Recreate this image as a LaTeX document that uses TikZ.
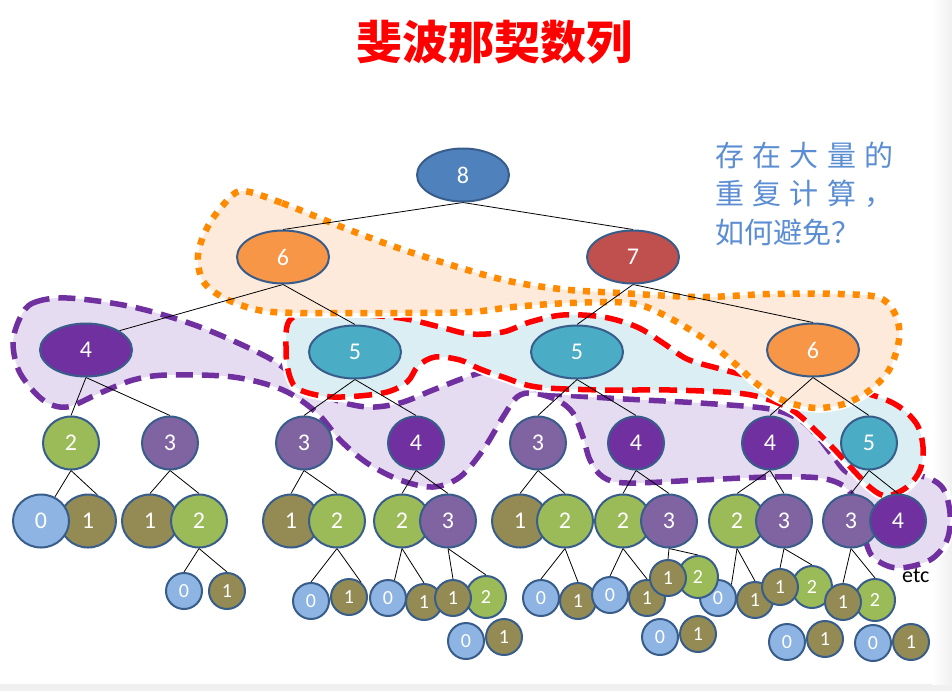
\documentclass[tikz,border=0pt]{standalone}
\usepackage{fontspec}
\newfontfamily\digitfont{Carlito}
\newfontfamily\cjk{Noto Sans CJK SC}
\usetikzlibrary{shapes.geometric}
\definecolor{cZero}{HTML}{8DB4E2}
\definecolor{cOne}{HTML}{948A54}
\definecolor{cTwo}{HTML}{9BBB59}
\definecolor{cThree}{HTML}{8064A2}
\definecolor{cFour}{HTML}{7030A0}
\definecolor{cFive}{HTML}{4BACC6}
\definecolor{cSix}{HTML}{F79646}
\definecolor{cSeven}{HTML}{C0504D}
\definecolor{cEight}{HTML}{4F81BD}
\definecolor{cBorder}{HTML}{385D8A}
\definecolor{hOrange}{HTML}{FF8A00}
\definecolor{hOrangeFill}{HTML}{FDEADA}
\definecolor{hRed}{HTML}{FF0000}
\definecolor{hBlueFill}{HTML}{DAEEF3}
\definecolor{hPurple}{HTML}{7030A0}
\definecolor{hPurpleFill}{HTML}{E6DCF2}
\definecolor{noteBlue}{HTML}{5B8DD3}
\pgfdeclarelayer{hulls}
\pgfdeclarelayer{edges}
\pgfsetlayers{hulls,edges,main}
\begin{document}
\begin{tikzpicture}[x=1pt,y=-1pt,
  nd/.style={ellipse, draw=cBorder, line width=2pt, inner sep=0pt, text=white,
    font=\digitfont\fontsize{24}{24}\selectfont},
  bignd/.style={nd, minimum width=92pt, minimum height=53pt},
  midnd/.style={nd, minimum width=56pt, minimum height=53pt},
  smlnd/.style={nd, minimum width=36pt, minimum height=36pt, font=\digitfont\fontsize{20}{20}\selectfont},
  smlbnd/.style={smlnd, minimum width=40pt, minimum height=42pt},
  vz/.style={fill=cZero}, vo/.style={fill=cOne}, vtw/.style={fill=cTwo},
  vth/.style={fill=cThree}, vfo/.style={fill=cFour}, vfi/.style={fill=cFive},
  vsi/.style={fill=cSix}, vse/.style={fill=cSeven}, vei/.style={fill=cEight},
  edge/.style={draw=black, line width=0.8pt},
  halo/.style={preaction={draw=white, line width=9.5pt, solid}},
]
\useasboundingbox (0,0) rectangle (952,691);
\begin{pgfonlayer}{hulls}
\fill[white] (0,0) rectangle (952,691);
\fill[gray!12] (0,684) rectangle (952,691);
\shade[left color=white, right color=gray!12] (932,0) rectangle (952,684);
% purple hull
\path[halo, fill=hPurpleFill, draw=hPurple, line width=5.5pt, dash pattern=on 17pt off 9pt]
 plot[smooth cycle, tension=0.55] coordinates {
 (20,318) (33,303) (67,298) (133,307) (200,327) (267,357) (300,380) (333,399)
 (367,407) (400,403) (433,390) (467,377) (490,372) (520,382) (550,393) (607,398)
 (700,403) (770,409) (800,420) (818,437) (833,456) (850,474) (887,479) (920,476)
 (942,487) (950,513) (947,540) (930,560) (897,568) (873,557) (864,535) (857,505)
 (845,487) (820,478) (770,477) (700,480) (627,483) (603,477) (590,460) (583,437)
 (573,413) (557,400) (533,393) (517,397) (503,417) (483,450) (460,477) (433,487)
 (400,480) (367,463) (340,440) (317,413) (283,390) (233,377) (167,375) (133,380)
 (100,393) (67,407) (43,400) (20,373) (13,343)};
% red hull
\path[halo, fill=hBlueFill, draw=hRed, line width=5.5pt, dash pattern=on 18pt off 9pt]
 plot[smooth cycle, tension=0.55] coordinates {
 (292,318) (340,314) (400,318) (440,327) (470,334) (503,332) (530,322) (563,315)
 (603,317) (637,327) (663,343) (687,359) (717,368) (750,376) (800,382) (853,390)
 (893,403) (916,423) (923,447) (920,470) (907,487) (887,496) (872,489) (855,472)
 (835,450) (815,430) (795,412) (770,400) (737,393) (670,390) (603,390) (537,387)
 (503,377) (480,369) (460,360) (435,357) (418,366) (407,382) (383,393) (333,397)
 (300,390) (290,377) (286,350)};
% orange hull
\path[halo, fill=hOrangeFill, draw=hOrange, line width=6.5pt, dash pattern=on 7pt off 8pt]
 plot[smooth cycle, tension=0.55] coordinates {
 (242,191) (282,203) (347,229) (413,253) (500,279) (560,289) (620,293) (700,297)
 (770,294) (840,294) (880,298) (896,316) (899,340) (889,370) (870,390) (847,403)
 (820,408) (797,405) (778,398) (757,384) (733,362) (703,338) (662,314) (630,303)
 (570,303) (513,307) (470,312) (400,313) (300,313) (258,310) (224,298) (203,281)
 (198,255) (207,228) (224,204)};
\end{pgfonlayer}

% title and note
\node[anchor=base, inner sep=0pt, text=red, font=\cjk\bfseries\fontsize{46}{46}\selectfont] (title) at (494.5,59) {斐波那契数列};
\node[anchor=base west, inner sep=0pt, text=noteBlue, font=\cjk\fontsize{29}{29}\selectfont] (noteA) at (715,166) {存\hspace{8.3pt}在\hspace{8.3pt}大\hspace{8.3pt}量\hspace{8.3pt}的};
\node[anchor=base west, inner sep=0pt, text=noteBlue, font=\cjk\fontsize{29}{29}\selectfont] (noteB) at (715,204) {重\hspace{8.3pt}复\hspace{8.3pt}计\hspace{8.3pt}算\hspace{8.3pt}，};
\node[anchor=base west, inner sep=0pt, text=noteBlue, font=\cjk\fontsize{29}{29}\selectfont] (noteC) at (715,243) {如何避免？};

% level 1-3
\node[bignd, vei] (n8) at (463,175) {8};
\node[bignd, vsi] (n6a) at (283,257) {6};
\node[bignd, vse] (n7) at (633,257) {7};
\node[bignd, vfo] (n4a) at (86,350) {4};
\node[bignd, vfi] (n5a) at (355,352) {5};
\node[bignd, vfi] (n5b) at (577,352) {5};
\node[bignd, vsi] (n6b) at (813,350) {6};
% level 4
\node[midnd, vtw] (n2a) at (71,443) {2};
\node[midnd, vth] (n3a) at (170,443) {3};
\node[midnd, vth] (n3b) at (304,443) {3};
\node[midnd, vfo] (n4b) at (416,443) {4};
\node[midnd, vth] (n3c) at (538,443) {3};
\node[midnd, vfo] (n4c) at (636,443) {4};
\node[midnd, vfo] (n4d) at (770,443) {4};
\node[midnd, vfi] (n5c) at (869,443) {5};
% level 5
\node[midnd, vo] (a1) at (88,521) {1};
\node[midnd, vz] (a0) at (41,521) {0};
\node[midnd, vo] (b1) at (150,521) {1};
\node[midnd, vtw] (b2) at (199,521) {2};
\node[midnd, vo] (c1) at (291,521) {1};
\node[midnd, vtw] (c2) at (337,521) {2};
\node[midnd, vtw] (d2) at (402,521) {2};
\node[midnd, vth] (d3) at (448,521) {3};
\node[midnd, vo] (e1) at (520,521) {1};
\node[midnd, vtw] (e2) at (565,521) {2};
\node[midnd, vtw] (f2) at (623,521) {2};
\node[midnd, vth] (f3) at (669,521) {3};
\node[midnd, vtw] (g2) at (737,521) {2};
\node[midnd, vth] (g3) at (784,521) {3};
\node[midnd, vth] (h3) at (851,521) {3};
\node[midnd, vfo] (h4) at (898,521) {4};
% level 6
\node[smlnd, vz] (p0) at (184,591) {0};
\node[smlnd, vo] (p1) at (227,591) {1};
\node[smlnd, vo] (q1) at (349,597) {1};
\node[smlnd, vz] (q0) at (311,601) {0};
\node[smlnd, vo] (r1) at (424,602) {1};
\node[smlnd, vz] (r0) at (388,598) {0};
\node[smlbnd, vtw] (s2) at (486,597) {2};
\node[smlnd, vo] (s1) at (453,598) {1};
\node[smlnd, vz] (t0) at (541,598) {0};
\node[smlnd, vo] (t1) at (578,601) {1};
\node[smlnd, vz] (u0) at (610,595) {0};
\node[smlnd, vo] (u1) at (647,598) {1};
\node[smlnd, vz] (w0) at (718,598) {0};
\node[smlbnd, vtw] (v2) at (698,577) {2};
\node[smlnd, vo] (v1) at (668,578) {1};
\node[smlnd, vo] (w1) at (755,600) {1};
\node[smlbnd, vtw] (x2) at (812,587) {2};
\node[smlnd, vo] (x1) at (780,587) {1};
\node[smlbnd, vtw] (y2) at (875,600) {2};
\node[smlnd, vo] (y1) at (843,602) {1};
% level 7
\node[smlnd, vz] (za0) at (466,641) {0};
\node[smlnd, vo] (za1) at (504,637) {1};
\node[smlnd, vz] (zb0) at (660,637) {0};
\node[smlnd, vo] (zb1) at (698,634) {1};
\node[smlnd, vz] (zc0) at (787,642) {0};
\node[smlnd, vo] (zc1) at (825,639) {1};
\node[smlnd, vz] (zd0) at (873,643) {0};
\node[smlnd, vo] (zd1) at (911,642) {1};
% etc
\node[anchor=base west, inner sep=0pt, font=\digitfont\fontsize{22}{22}\selectfont] (etc) at (902,582) {etc};

\begin{pgfonlayer}{edges}
\draw[edge] (n8.south) -- (n6a.north);
\draw[edge] (n8.south) -- (n7.north);
\draw[edge] (n6a.south) -- (n4a.30);
\draw[edge] (n6a.south) -- (n5a.north);
\draw[edge] (n7.south) -- (n5b.north);
\draw[edge] (n7.south) -- (n6b.north);
\draw[edge] (n4a.south) -- (n2a.north);
\draw[edge] (n4a.south) -- (n3a.north);
\draw[edge] (n5a.south) -- (n3b.north);
\draw[edge] (n5a.south) -- (n4b.north);
\draw[edge] (n5b.south) -- (n3c.north);
\draw[edge] (n5b.south) -- (n4c.north);
\draw[edge] (n6b.south) -- (n4d.north);
\draw[edge] (n6b.south) -- (n5c.north);
\draw[edge] (n2a.south) -- (a0.60);
\draw[edge] (n2a.south) -- (a1.70);
\draw[edge] (n3a.south) -- (b1.north);
\draw[edge] (n3a.south) -- (b2.north);
\draw[edge] (n3b.south) -- (c1.north);
\draw[edge] (n3b.south) -- (c2.north);
\draw[edge] (n4b.south) -- (d2.north);
\draw[edge] (n4b.south) -- (d3.north);
\draw[edge] (n3c.south) -- (e1.north);
\draw[edge] (n3c.south) -- (e2.north);
\draw[edge] (n4c.south) -- (f2.north);
\draw[edge] (n4c.south) -- (f3.north);
\draw[edge] (n4d.south) -- (g2.north);
\draw[edge] (n4d.south) -- (g3.north);
\draw[edge] (n5c.south) -- (h3.north);
\draw[edge] (n5c.south) -- (h4.north);
\draw[edge] (b2.south) -- (p0.north);
\draw[edge] (b2.south) -- (p1.north);
\draw[edge] (c2.south) -- (q0.north);
\draw[edge] (c2.south) -- (q1.50);
\draw[edge] (d2.south) -- (r0.70);
\draw[edge] (d2.south) -- (r1.north);
\draw[edge] (d3.south) -- (s1.north);
\draw[edge] (d3.south) -- (s2.north);
\draw[edge] (e2.south) -- (t0.north);
\draw[edge] (e2.south) -- (t1.north);
\draw[edge] (f2.south) -- (u0.north);
\draw[edge] (f2.south) -- (u1.north);
\draw[edge] (f3.south) -- (v1.north);
\draw[edge] (f3.south) -- (v2.north);
\draw[edge] (g2.south) -- (w0.45);
\draw[edge] (g2.south) -- (w1.north);
\draw[edge] (g3.south) -- (x1.north);
\draw[edge] (g3.south) -- (x2.north);
\draw[edge] (h3.south) -- (y1.north);
\draw[edge] (h3.south) -- (y2.north);
\end{pgfonlayer}
\end{tikzpicture}
\end{document}
